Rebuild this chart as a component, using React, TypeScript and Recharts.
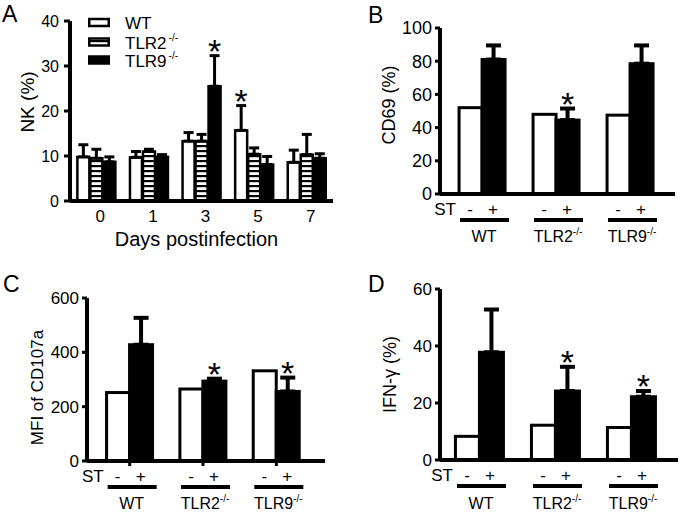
import React from "react";
import { Bar, BarChart, ErrorBar, XAxis, YAxis } from "recharts";

const FONT = "'Liberation Sans', Arial, Helvetica, sans-serif";

// A: NK cells by day postinfection
const days = ["0", "1", "3", "5", "7"];
const nkWT = [9.8, 9.7, 13.3, 15.7, 8.6];
const nkWTErr = [2.7, 1.3, 1.9, 5.5, 2.7];
const nkTLR2 = [9.5, 11.0, 13.3, 10.4, 10.3];
const nkTLR2Err = [2.0, 0.5, 1.5, 1.4, 4.5];
const nkTLR9 = [8.7, 9.8, 25.5, 8.1, 9.5];
const nkTLR9Err = [1.1, 0.5, 6.8, 1.8, 1.0];
const nkSigWT = [false, false, false, true, false];
const nkSigTLR9 = [false, false, true, false, false];

// B-D: genotype groups, unstimulated (-) vs ST stimulated (+)
const genotypes = ["WT", "TLR2", "TLR9"];
const genotypeSup = ["", "-/-", "-/-"];

const cd69Neg = [52, 48, 47.5];
const cd69Pos = [81, 44.5, 78.5];
const cd69PosErr = [8.5, 7, 11];
const cd69Sig = [false, true, false];

const mfiNeg = [252, 265, 332];
const mfiPos = [428, 294, 256];
const mfiPosErr = [99, 9, 51];
const mfiSig = [false, true, true];

const ifnNeg = [8.3, 12.2, 11.4];
const ifnPos = [37.8, 24.2, 22.2];
const ifnPosErr = [15, 8.5, 2];
const ifnSig = [false, true, true];

const nkData = days.map((day, i) => ({
  day,
  wt: nkWT[i],
  wtErr: [0, nkWTErr[i]],
  wtSig: nkSigWT[i],
  tlr2: nkTLR2[i],
  tlr2Err: [0, nkTLR2Err[i]],
  tlr2Sig: false,
  tlr9: nkTLR9[i],
  tlr9Err: [0, nkTLR9Err[i]],
  tlr9Sig: nkSigTLR9[i],
}));

const makeStim = (neg: number[], pos: number[], err: number[], sig: boolean[]) =>
  genotypes.map((g, i) => ({
    g,
    neg: neg[i],
    pos: pos[i],
    posErr: [0, err[i]],
    sig: sig[i],
  }));

const cd69Data = makeStim(cd69Neg, cd69Pos, cd69PosErr, cd69Sig);
const mfiData = makeStim(mfiNeg, mfiPos, mfiPosErr, mfiSig);
const ifnData = makeStim(ifnNeg, ifnPos, ifnPosErr, ifnSig);

// bar rect + asterisk above the error bar when significant
function barShape(valueKey: string, errKey: string | null, sigKey: string | null, sw: number) {
  return (props: any) => {
    const { x, y, width, height, fill, payload } = props;
    const v = payload[valueKey];
    const e = errKey && payload[errKey] ? payload[errKey][1] : 0;
    const errTop = y - (v > 0 ? (e * height) / v : 0);
    return (
      <g>
        <rect x={x} y={y} width={width} height={height} fill={fill} stroke="#000" strokeWidth={sw} />
        {sigKey && payload[sigKey] && (
          <text
            x={x + width / 2}
            y={errTop + 7}
            textAnchor="middle"
            fontSize={34}
            fontFamily={FONT}
            fill="#000"
          >
            *
          </text>
        )}
      </g>
    );
  };
}

function groupTick(off: number, labelBase: number) {
  return (props: any) => {
    const { x, y, payload, index } = props;
    const y0 = y - off;
    const sup = genotypeSup[index];
    return (
      <g fontFamily={FONT} fill="#000">
        {index === 0 && (
          <text x={x - 26} y={y0 + 21} textAnchor="end" fontSize={17}>
            ST
          </text>
        )}
        <text x={x - 12} y={y0 + 21} textAnchor="middle" fontSize={17}>
          -
        </text>
        <text x={x + 11} y={y0 + 21} textAnchor="middle" fontSize={17}>
          +
        </text>
        <rect x={x - 22} y={y0 + 24} width={49} height={4} fill="#000" />
        <text x={x + 2} y={y0 + labelBase} textAnchor="middle" fontSize={16}>
          {payload.value}
          {sup && (
            <tspan fontSize={10} dy={-7}>
              {sup}
            </tspan>
          )}
        </text>
      </g>
    );
  };
}

const axisLine = { stroke: "#000", strokeWidth: 4 };
const yTickLine = { stroke: "#000", strokeWidth: 3 };

function PanelA() {
  return (
    <BarChart
      width={340}
      height={250}
      data={nkData}
      margin={{ top: 21, right: 7, left: 0, bottom: 4 }}
      barCategoryGap="14%"
      barGap={1}
    >
      <XAxis
        dataKey="day"
        height={45}
        axisLine={axisLine}
        tickLine={false}
        tickSize={0}
        tickMargin={9}
        tick={{ fontSize: 17, fill: "#000", fontFamily: FONT, dx: 4 }}
        label={{ value: "Days postinfection", position: "insideBottom", offset: 0, dx: -5, fontSize: 20, fill: "#000", fontFamily: FONT }}
      />
      <YAxis
        width={70}
        domain={[0, 40]}
        ticks={[0, 10, 20, 30, 40]}
        axisLine={axisLine}
        tickLine={yTickLine}
        tickSize={6}
        tickMargin={5}
        tick={{ fontSize: 16, fill: "#000", fontFamily: FONT }}
        label={{ value: "NK (%)", angle: -90, position: "center", dx: -8, dy: -9, fontSize: 19, fill: "#000", fontFamily: FONT }}
      />
      <Bar dataKey="wt" fill="#fff" isAnimationActive={false} shape={barShape("wt", "wtErr", "wtSig", 2.5)}>
        <ErrorBar dataKey="wtErr" width={5} strokeWidth={3} stroke="#000" isAnimationActive={false} />
      </Bar>
      <Bar dataKey="tlr2" fill="url(#hstripes)" isAnimationActive={false} shape={barShape("tlr2", "tlr2Err", "tlr2Sig", 2.5)}>
        <ErrorBar dataKey="tlr2Err" width={5} strokeWidth={3} stroke="#000" isAnimationActive={false} />
      </Bar>
      <Bar dataKey="tlr9" fill="#000" isAnimationActive={false} shape={barShape("tlr9", "tlr9Err", "tlr9Sig", 2.5)}>
        <ErrorBar dataKey="tlr9Err" width={5} strokeWidth={3} stroke="#000" isAnimationActive={false} />
      </Bar>
    </BarChart>
  );
}

function StimPanel(p: {
  data: any[];
  height: number;
  margin: { top: number; right: number; left: number; bottom: number };
  yWidth: number;
  domain: [number, number];
  ticks: number[];
  yLabel: string;
  labelDx: number;
  labelDy: number;
  labelSize: number;
  tickFont: number;
  padding: { left: number; right: number };
  gap: string;
  tickMark: number;
  labelBase: number;
}) {
  return (
    <BarChart width={340} height={p.height} data={p.data} margin={p.margin} barCategoryGap={p.gap} barGap={0}>
      <XAxis
        dataKey="g"
        height={50}
        padding={p.padding}
        axisLine={axisLine}
        tickLine={p.tickMark > 0 ? yTickLine : false}
        tickSize={p.tickMark}
        tickMargin={0}
        interval={0}
        tick={groupTick(p.tickMark, p.labelBase)}
      />
      <YAxis
        width={p.yWidth}
        domain={p.domain}
        ticks={p.ticks}
        axisLine={axisLine}
        tickLine={yTickLine}
        tickSize={5}
        tickMargin={3}
        tick={{ fontSize: p.tickFont, fill: "#000", fontFamily: FONT }}
        label={{ value: p.yLabel, angle: -90, position: "center", dx: p.labelDx, dy: p.labelDy, fontSize: p.labelSize, fill: "#000", fontFamily: FONT }}
      />
      <Bar dataKey="neg" fill="#fff" isAnimationActive={false} shape={barShape("neg", null, null, 3)} />
      <Bar dataKey="pos" fill="#000" isAnimationActive={false} shape={barShape("pos", "posErr", "sig", 3)}>
        <ErrorBar dataKey="posErr" width={7.5} strokeWidth={4} stroke="#000" isAnimationActive={false} />
      </Bar>
    </BarChart>
  );
}

function Overlay() {
  const legendRows = [
    { name: "WT", sup: "", fill: "#fff", y: 19 },
    { name: "TLR2", sup: "-/-", fill: "url(#hstripes)", y: 38.5 },
    { name: "TLR9", sup: "-/-", fill: "#000", y: 56.5 },
  ];
  return (
    <svg width={680} height={513} style={{ position: "absolute", left: 0, top: 0, pointerEvents: "none" }}>
      <defs>
        <pattern id="hstripes" width={6} height={5} patternUnits="userSpaceOnUse">
          <rect width={6} height={5} fill="#fff" />
          <rect width={6} height={2.2} fill="#000" />
        </pattern>
      </defs>
      <g fontFamily={FONT} fill="#000" fontSize={23}>
        <text x={2} y={22}>A</text>
        <text x={368} y={23}>B</text>
        <text x={3} y={292}>C</text>
        <text x={368} y={292}>D</text>
      </g>
      <g fontFamily={FONT} fill="#000">
        {legendRows.map((r) => (
          <g key={r.name}>
            <rect x={89.25} y={r.y} width={19.5} height={7} fill={r.fill} stroke="#000" strokeWidth={2.5} />
            <text x={125} y={r.y + 10} fontSize={17}>
              {r.name}
              {r.sup && (
                <tspan fontSize={10} dx={2} dy={-8}>
                  {r.sup}
                </tspan>
              )}
            </text>
          </g>
        ))}
      </g>
    </svg>
  );
}

export default function App() {
  return (
    <div style={{ position: "absolute", left: 0, top: 0, width: 680, height: 513, background: "#fff", overflow: "hidden" }}>
      <div style={{ position: "absolute", left: 0, top: 0 }}>
        <PanelA />
      </div>
      <div style={{ position: "absolute", left: 340, top: 0 }}>
        <StimPanel
          data={cd69Data}
          height={250}
          margin={{ top: 28, right: 5, left: 0, bottom: 6 }}
          yWidth={100}
          domain={[0, 100]}
          ticks={[0, 20, 40, 60, 80, 100]}
          yLabel="CD69 (%)"
          labelDx={-1}
          labelDy={-6}
          labelSize={18}
          tickFont={18}
          padding={{ left: 5, right: 8 }}
          gap="19%"
          tickMark={0}
          labelBase={48}
        />
      </div>
      <div style={{ position: "absolute", left: 0, top: 250 }}>
        <StimPanel
          data={mfiData}
          height={263}
          margin={{ top: 48, right: 15, left: 0, bottom: 2 }}
          yWidth={87}
          domain={[0, 600]}
          ticks={[0, 200, 400, 600]}
          yLabel="MFI of CD107a"
          labelDx={-7}
          labelDy={8}
          labelSize={17}
          tickFont={17}
          padding={{ left: 6, right: 12 }}
          gap="18.5%"
          tickMark={5}
          labelBase={48}
        />
      </div>
      <div style={{ position: "absolute", left: 340, top: 250 }}>
        <StimPanel
          data={ifnData}
          height={263}
          margin={{ top: 39, right: 2, left: 0, bottom: 3 }}
          yWidth={100}
          domain={[0, 60]}
          ticks={[0, 20, 40, 60]}
          yLabel="IFN-γ (%)"
          labelDx={0}
          labelDy={0}
          labelSize={18}
          tickFont={17}
          padding={{ left: 1, right: 9 }}
          gap="19%"
          tickMark={0}
          labelBase={49}
        />
      </div>
      <Overlay />
    </div>
  );
}
